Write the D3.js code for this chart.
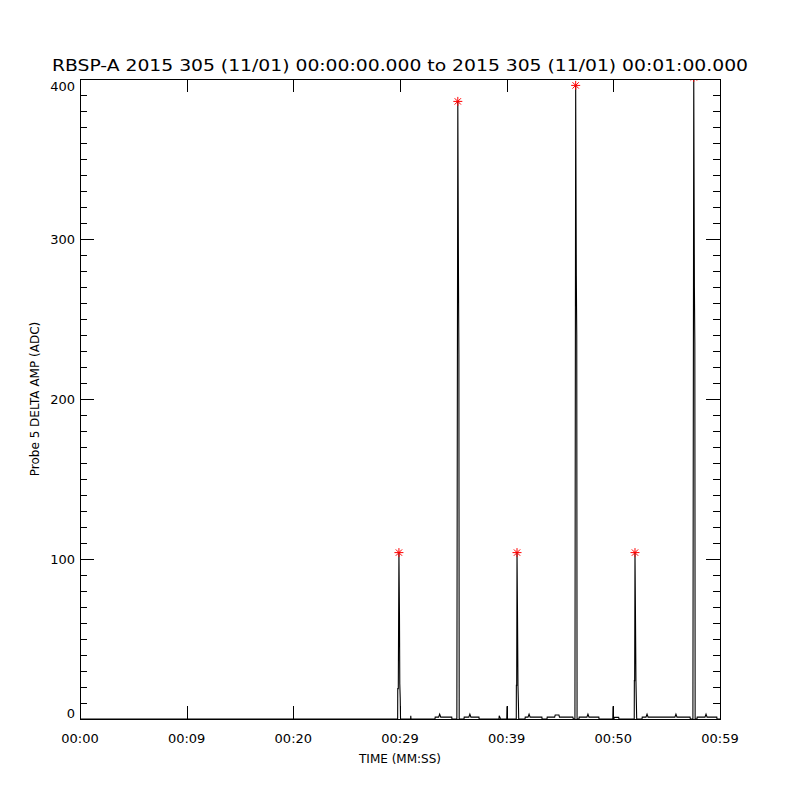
<!DOCTYPE html>
<html>
<head>
<meta charset="utf-8">
<script src="https://cdn.jsdelivr.net/npm/d3@7"></script>
<style>
  body{margin:0;background:#fff}
  text{font-family:"DejaVu Sans",sans-serif;fill:#000}
</style>
</head>
<body>
<div id="chart"></div>
<script>
const titleText = "RBSP-A 2015 305 (11/01) 00:00:00.000 to 2015 305 (11/01) 00:01:00.000"
const xTickSec = [0,10,20,30,40,50,60]
const xTickLabels = ["00:00","00:09","00:20","00:29","00:39","00:50","00:59"]
const yTicks = [0,100,200,300,400]

const timeSec = [0,29.78,29.79,29.84,29.90,29.95,29.98,30.02,30.05,
  31.00,31.01,31.03,
  33.28,33.30,33.62,33.72,33.82,34.85,34.87,
  35.33,35.42,35.48,35.52,35.55,
  36.00,36.02,36.45,36.55,36.65,37.40,37.42,
  39.28,39.30,39.40,39.45,
  40.01,40.03,40.05,
  40.90,40.91,40.94,40.97,41.02,41.06,41.10,41.13,
  41.72,41.74,42.00,42.10,42.20,43.30,43.32,
  43.78,43.80,44.50,44.55,44.90,44.95,46.20,46.25,
  46.40,46.47,46.53,46.57,46.60,
  46.78,46.80,47.52,47.62,47.72,48.64,48.66,
  49.95,49.97,49.99,50.06,50.08,50.50,50.53,
  51.96,51.97,52.00,52.03,52.08,52.12,52.16,52.19,
  52.69,52.71,53.06,53.16,53.26,55.77,55.87,55.97,57.19,57.22,
  57.46,57.54,57.60,57.64,57.67,
  57.84,57.86,58.59,58.69,58.79,59.70,59.72,60]
const ampAdc = [0,0,19,19,104,65,22,13,0,
  0,2,0,
  0,1.2,1.2,3,1.2,1.2,0,
  0,386,280,228,0,
  0,1.2,1.2,3,1.2,1.2,0,
  0,2,0.5,0,
  0,8,0,
  0,21,21,104,62,21,10,0,
  0,1.2,1.2,3,1.2,1.2,0,
  0,1.2,1.2,2.5,2.5,1.2,1.2,0,
  0,396,277,240,0,
  0,1.2,1.2,3,1.2,1.2,0,
  0,8,0,0,1,1,0,
  0,24,24,104,61,24,10,0,
  0,1.2,1.2,3,1.2,1.2,3,1.2,1.2,0,
  0,401,270,235,0,
  0,1.2,1.2,3,1.2,1.2,0,0]

const peakTime = [29.90,35.42,40.97,46.47,52.03,57.54]
const peakAmp = [104,386,104,396,104,401]

function createCanvas(){
  return {width:800,height:800,margin:{top:79,right:80,bottom:81,left:80}}
}

function addSvg(id,canvas){
  return d3.select(id).append("svg").attr("width",canvas.width).attr("height",canvas.height)
}

drawChart("#chart")

function drawChart(id){
  const canvas = createCanvas()
  const m = canvas.margin
  const svg = addSvg(id,canvas)
  const left = m.left, right = canvas.width - m.right
  const top = m.top, bottom = canvas.height - m.bottom

  const x = d3.scaleLinear().domain([0,60]).range([left,right])
  const y = d3.scaleLinear().domain([0,400]).range([bottom,top])

  svg.append("defs").append("clipPath").attr("id","plotClip")
    .append("rect").attr("x",left).attr("y",top).attr("width",right-left).attr("height",bottom-top)

  const pts = timeSec.map((t,i) => [t,ampAdc[i]])
  const line = d3.line().x(d => x(d[0])).y(d => y(d[1]))

  svg.append("path").datum(pts).attr("d",line).attr("fill","none")
    .attr("stroke","#000").attr("stroke-width",1.1).attr("clip-path","url(#plotClip)")

  const stars = svg.append("g").attr("clip-path","url(#plotClip)")
  peakTime.forEach((t,i) => {
    const cx = x(t), cy = y(peakAmp[i]), r = 4.5
    const d = [0,45,90,135].map(a => {
      const dx = r*Math.cos(a*Math.PI/180), dy = r*Math.sin(a*Math.PI/180)
      return `M${cx-dx},${cy-dy}L${cx+dx},${cy+dy}`
    }).join("")
    stars.append("path").attr("d",d).attr("stroke","#ff0000").attr("stroke-width",1).attr("fill","none")
  })

  drawAxes(svg,x,y,left,right,top,bottom)
  drawLabels(svg,left,right,top,bottom)
}

function drawAxes(svg,x,y,left,right,top,bottom){
  svg.append("rect").attr("x",left+0.5).attr("y",top+0.5)
    .attr("width",right-left).attr("height",bottom-top)
    .attr("fill","none").attr("stroke","#000").attr("stroke-width",1)

  const g = svg.append("g").attr("stroke","#000").attr("stroke-width",1)
  const minor = d3.range(0,401,10)
  minor.forEach(v => {
    const yy = Math.round(y(v))+0.5
    const len = v % 100 === 0 ? 14 : 7
    g.append("line").attr("x1",left).attr("x2",left+len).attr("y1",yy).attr("y2",yy)
    g.append("line").attr("x1",right).attr("x2",right-len).attr("y1",yy).attr("y2",yy)
  })
  xTickSec.forEach(t => {
    const xx = Math.round(x(t))+0.5
    g.append("line").attr("x1",xx).attr("x2",xx).attr("y1",bottom).attr("y2",bottom-13)
    g.append("line").attr("x1",xx).attr("x2",xx).attr("y1",top).attr("y2",top+13)
  })

  svg.selectAll(".ylab").data(yTicks).enter().append("text").attr("class","ylab")
    .attr("x",left-5).attr("text-anchor","end").attr("font-size","13px")
    .attr("y",d => Math.min(Math.max(y(d)+4.5,top+12),bottom-1))
    .text(d => d)

  svg.selectAll(".xlab").data(xTickSec).enter().append("text").attr("class","xlab")
    .attr("x",d => x(d)).attr("y",bottom+24).attr("text-anchor","middle").attr("font-size","13px")
    .text((d,i) => xTickLabels[i])
}

function drawLabels(svg,left,right,top,bottom){
  svg.append("text").attr("x",(left+right)/2).attr("y",71).attr("text-anchor","middle")
    .attr("font-size","16px").attr("textLength",696).attr("lengthAdjust","spacingAndGlyphs")
    .text(titleText)

  svg.append("text").attr("x",(left+right)/2).attr("y",763).attr("text-anchor","middle")
    .attr("font-size","12px").text("TIME (MM:SS)")

  svg.append("text").attr("transform",`translate(39,${(top+bottom)/2}) rotate(-90)`)
    .attr("text-anchor","middle").attr("font-size","12px").text("Probe 5 DELTA AMP (ADC)")
}
</script>
</body>
</html>
